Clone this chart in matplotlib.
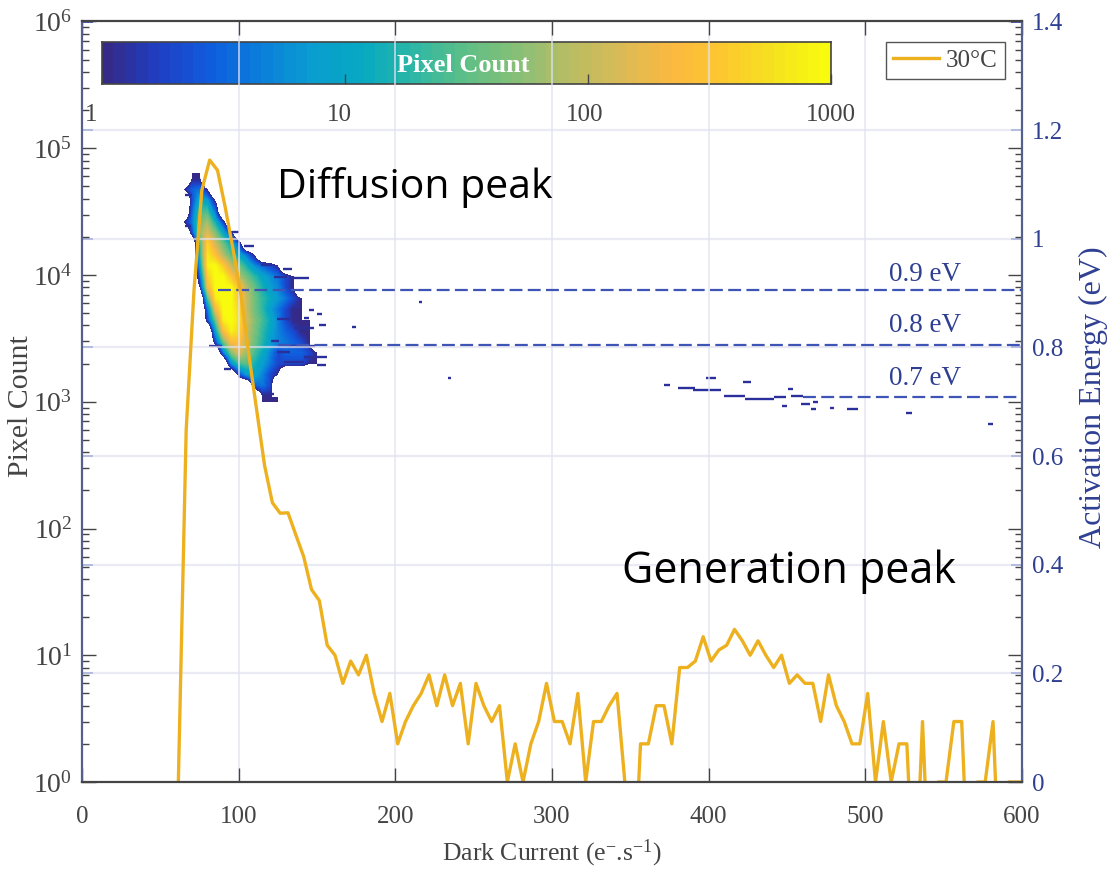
from matplotlib import pyplot as plt
from matplotlib.colors import LinearSegmentedColormap
import numpy as np

plt.rcParams['font.family'] = ['Liberation Serif', 'DejaVu Serif']
plt.rcParams['mathtext.default'] = 'regular'
plt.rcParams['mathtext.fontset'] = 'custom'
plt.rcParams['mathtext.rm'] = 'Liberation Serif'

# 30C histogram, 0.1 stands for the empty bins of the original
dark_current = np.arange(61.5, 602, 5)
pixel_count = [1, 600, 7600, 46800, 80700, 67000, 33800, 15700, 6950, 2340,
               860, 316, 160, 132, 133, 89, 60, 33, 27, 12,
               10, 6, 9, 7, 10, 5, 3, 5, 2, 3,
               4, 5, 7, 4, 7, 4, 6, 2, 6, 4,
               3, 4, 1, 2, 1, 2, 3, 6, 3, 3,
               2, 5, 1, 3, 3, 4, 5, 1, 0.1, 2,
               2, 4, 4, 2, 8, 8, 9, 14, 9, 11,
               12, 16, 13, 10, 13, 10, 8, 10, 6, 7,
               6, 6, 3, 7, 4, 3, 2, 2, 5, 1,
               3, 1, 2, 2, 0.1, 3, 0.1, 1, 1, 3,
               3, 0.1, 1, 1, 3, 0.1, 1, 1, 1]

# activation energy map, rows go with map_energy, columns with map_current
map_current = [65, 70, 75, 80, 85, 90, 95, 100, 105, 110, 115, 120, 125, 130, 135, 140, 145, 150, 155, 160]
map_energy = [1.11, 1.09, 1.07, 1.05, 1.03, 1.01, 0.99, 0.97, 0.95, 0.93, 0.91,
              0.89, 0.87, 0.85, 0.83, 0.81, 0.79, 0.77, 0.75, 0.73, 0.71]
map_counts = [
    [0, 1, 1, 0, 0, 0, 0, 0, 0, 0, 0, 0, 0, 0, 0, 0, 0, 0, 0, 0],
    [1, 3, 4, 1, 0, 0, 0, 0, 0, 0, 0, 0, 0, 0, 0, 0, 0, 0, 0, 0],
    [0, 2, 12, 8, 1, 0, 0, 0, 0, 0, 0, 0, 0, 0, 0, 0, 0, 0, 0, 0],
    [0, 3, 25, 25, 4, 0, 0, 0, 0, 0, 0, 0, 0, 0, 0, 0, 0, 0, 0, 0],
    [1, 4, 40, 70, 15, 2, 0, 0, 0, 0, 0, 0, 0, 0, 0, 0, 0, 0, 0, 0],
    [0, 2, 60, 150, 50, 12, 2, 0, 0, 0, 0, 0, 0, 0, 0, 0, 0, 0, 0, 0],
    [0, 0, 20, 500, 120, 40, 12, 3, 0, 0, 0, 0, 0, 0, 0, 0, 0, 0, 0, 0],
    [0, 0, 15, 700, 300, 80, 30, 10, 4, 1, 0, 0, 0, 0, 0, 0, 0, 0, 0, 0],
    [0, 0, 8, 800, 1000, 400, 100, 40, 15, 6, 3, 2, 1, 0, 0, 0, 0, 0, 0, 0],
    [0, 0, 3, 400, 1000, 1000, 350, 90, 40, 20, 10, 6, 4, 2, 1, 0, 0, 0, 0, 0],
    [0, 0, 1, 200, 1000, 1000, 1000, 300, 80, 35, 15, 8, 5, 2, 1, 0, 0, 0, 0, 0],
    [0, 0, 0, 30, 700, 1000, 1000, 350, 100, 40, 20, 12, 7, 4, 2, 1, 1, 0, 0, 0],
    [0, 0, 0, 4, 200, 1000, 1000, 500, 100, 40, 20, 8, 4, 2, 1, 1, 0, 0, 0, 0],
    [0, 0, 0, 2, 40, 800, 1000, 600, 120, 50, 25, 12, 5, 2, 1, 1, 1, 0, 0, 0],
    [0, 0, 0, 0, 10, 250, 800, 500, 100, 45, 20, 10, 5, 3, 2, 1, 1, 1, 0, 0],
    [0, 0, 0, 0, 2, 40, 250, 300, 90, 40, 18, 8, 5, 4, 3, 2, 1, 0, 0, 0],
    [0, 0, 0, 0, 0, 4, 50, 150, 60, 25, 12, 5, 2, 3, 3, 3, 2, 1, 0, 0],
    [0, 0, 0, 0, 0, 0, 6, 25, 30, 15, 8, 4, 2, 2, 2, 2, 1, 1, 0, 0],
    [0, 0, 0, 0, 0, 0, 0, 2, 8, 10, 5, 2, 1, 0, 0, 0, 0, 0, 0, 0],
    [0, 0, 0, 0, 0, 0, 0, 0, 0, 3, 4, 2, 0, 0, 0, 0, 0, 0, 0, 0],
    [0, 0, 0, 0, 0, 0, 0, 0, 0, 0, 1, 1, 1, 0, 0, 0, 0, 0, 0, 0],
]

# single count streaks around the main map and near the generation peak
streak_start = [135.3, 145, 150, 141.7, 151, 135.3, 124.7, 81, 131, 120.4, 124.7, 141.7, 129, 150, 90.6, 115,
                71, 66, 66, 96, 103.4, 114, 128, 122.5, 133, 215, 233.5, 172.6,
                371.4, 380.3, 390, 398.4, 421.8, 410, 423, 442, 450.6, 452.7, 459, 466.6, 465.5, 447,
                477.2, 488.5, 526.2, 578.4]
streak_end = [140, 148, 153, 145, 155.6, 148, 133, 89.5, 149, 125.7, 133, 156.6, 141.7, 155.6, 95, 122.5,
              75.7, 70.4, 69.3, 100, 110, 121.5, 134.3, 131, 145, 217, 235.5, 174.6,
              375.6, 391, 408, 404.8, 427.2, 423, 442, 449.5, 453.8, 460.2, 464.4, 469.8, 468.7, 450,
              479.8, 495.3, 530, 581.6]
streak_energy = [0.875, 0.868, 0.861, 0.854, 0.841, 0.835, 0.852, 0.803, 0.803, 0.811, 0.792, 0.783, 0.773, 0.768, 0.760, 0.714,
                 1.108, 1.08, 1.023, 1.013, 0.987, 0.952, 0.944, 0.930, 0.927, 0.884, 0.744, 0.838,
                 0.731, 0.725, 0.722, 0.743, 0.736, 0.710, 0.705, 0.709, 0.723, 0.710, 0.696, 0.699, 0.686, 0.692,
                 0.688, 0.686, 0.679, 0.659]

# dashed energy levels
level_energy = [0.906, 0.804, 0.708]
level_start = [87, 125, 460]
level_labels = ['0.9 eV', '0.8 eV', '0.7 eV']
level_label_energy = [0.935, 0.840, 0.742]

x_ticks = [0, 100, 200, 300, 400, 500, 600]
energy_ticks = [0, 0.2, 0.4, 0.6, 0.8, 1, 1.2, 1.4]
energy_labels = ['0', '0.2', '0.4', '0.6', '0.8', '1', '1.2', '1.4']
bar_ticks = [1, 10, 100, 1000]
bar_labels = ['1', '10', '100', '1000']
bar_label_pos = [0.9, 9.5, 97, 1000]

parula_nodes = ['#352a87', '#1f3fc4', '#0f5cdd', '#0b7fdb', '#0a9dd0', '#06a9c1', '#2eb7a4',
                '#5fbf85', '#87bf77', '#b8bd64', '#d9ba56', '#fcb940', '#fdc82f', '#f5e21e', '#f9fb0e']
parula = LinearSegmentedColormap.from_list('parula_like', parula_nodes, N=64)
parula.set_under((1, 1, 1, 0))

blue_text = '#2f3f92'
gray_text = '#444444'
grid_color = '#e2e2f0'

fig = plt.figure(figsize=(11.15, 8.72), dpi=100)
rect = [82 / 1115, 1 - 782 / 872, 940 / 1115, 760.5 / 872]

# colour bar goes first so the grid lines run over it
cax = fig.add_axes([102 / 1115, 1 - 84.5 / 872, 729 / 1115, 42.5 / 872], zorder=1)
cax.pcolormesh(np.geomspace(1, 1000, 65), [0, 1], np.linspace(0, 1, 64)[None, :], cmap=parula, vmin=0, vmax=1)
cax.set_xscale('log')
cax.set_xlim(1, 1000)
cax.set_yticks([])
cax.set_xticks(bar_ticks, labels=[])
cax.minorticks_off()
cax.tick_params(axis='x', direction='in', length=7, width=1, color='#444444')
for spine in cax.spines.values():
    spine.set_color('#444444')
    spine.set_linewidth(1.2)
for pos, name in zip(bar_label_pos, bar_labels):
    cax.text(pos, -0.72, name, fontsize=18, color=gray_text, ha='center', va='center',
             transform=cax.get_xaxis_transform())
cax.text(0.496, 0.44, 'Pixel Count', fontsize=19, fontweight='bold', color='white', ha='center', va='center',
         transform=cax.transAxes)

ax2 = fig.add_axes(rect, zorder=2)
ax2.patch.set_visible(False)
counts = np.array(map_counts, dtype=float)
# empty cells sit below vmin, so the smoothed edge of the map goes transparent
log_counts = np.log10(np.where(counts > 0, counts, 0.1))
ax2.imshow(log_counts, extent=[62.5, 162.5, 0.70, 1.12], aspect='auto', cmap=parula,
           vmin=0, vmax=3, interpolation='bilinear', interpolation_stage='data', zorder=1)
ax2.hlines(streak_energy, streak_start, streak_end, color='#2b2f9b', linewidth=1.7, zorder=1.5)
ax2.hlines(energy_ticks[1:-1], 0, 600, color=grid_color, linewidth=1.6, alpha=0.7, zorder=2)
ax2.vlines(x_ticks[1:-1], 0, 1.4, color=grid_color, linewidth=1.4, alpha=0.7, zorder=2)
for e, start, name, label_e in zip(level_energy, level_start, level_labels, level_label_energy):
    ax2.plot([start, 600], [e, e], color='#3f55b5', linewidth=1.6, dashes=(5.8, 2.4), zorder=3)
    ax2.text(515, label_e, name, fontsize=19.5, color=blue_text, ha='left', va='center', zorder=3)
ax2.set_xlim(0, 600)
ax2.set_ylim(0, 1.4)
ax2.yaxis.tick_right()
ax2.yaxis.set_label_position('right')
ax2.set_yticks(energy_ticks, labels=energy_labels)
ax2.tick_params(axis='y', which='major', direction='in', length=8, width=1.3, color='#3f55b5',
                labelcolor=blue_text, labelsize=18, pad=7, left=True)
ax2.set_xticks([])
ax2.set_ylabel('Activation Energy (eV)', fontsize=23, color=blue_text)
ax2.yaxis.set_label_coords((1079 - 82) / 940, 0.506)

ax = fig.add_axes(rect, zorder=3)
ax.patch.set_visible(False)
ax.plot(dark_current, pixel_count, color='#edb120', linewidth=2.4, label='30°C')
ax.set_yscale('log')
ax.set_xlim(0, 600)
ax.set_ylim(1, 1e6)
ax.set_xticks(x_ticks)
ax.set_yticks([10.0 ** p for p in range(7)])
ax.tick_params(axis='x', direction='in', top=True, length=10, width=1, color='#444444',
               labelcolor=gray_text, labelsize=18, pad=17)
ax.tick_params(axis='y', which='major', direction='in', right=True, length=10, width=1, color='#444444',
               labelcolor=gray_text, labelsize=20, pad=7)
ax.tick_params(axis='y', which='minor', direction='in', right=True, length=5, width=1, color='#444444')
ax.set_xlabel('Dark Current (e$^{-}$.s$^{-1}$)', fontsize=18.5, color=gray_text)
ax.xaxis.set_label_coords((552 - 82) / 940, -(838 - 782) / 760.5)
ax.set_ylabel('Pixel Count', fontsize=21.5, color=gray_text)
ax.yaxis.set_label_coords((34 - 82) / 940, 0.494)
ax.spines['left'].set_color('#56608c')
ax.spines['right'].set_color('#56608c')
ax.spines['top'].set_color('#444444')
ax.spines['bottom'].set_color('#444444')
for spine in ax.spines.values():
    spine.set_linewidth(1.6)
for spine in ax2.spines.values():
    spine.set_visible(False)

ax.legend(loc='upper right', bbox_to_anchor=((1005 - 82) / 940, 1 - (42 - 21.5) / 760.5), borderaxespad=0,
          fontsize=18, frameon=True, fancybox=False, framealpha=1, edgecolor='#555555', handlelength=1.85,
          handletextpad=0.25, borderpad=0.3, labelcolor=gray_text)

fig.text(415 / 1115, 1 - 187 / 872, 'Diffusion peak', fontsize=29.5, color='black', family='Open Sans',
         ha='center', va='center', zorder=10)
fig.text(789 / 1115, 1 - 572 / 872, 'Generation peak', fontsize=31, color='black', family='Open Sans',
         ha='center', va='center', zorder=10)

plt.savefig('out.png', dpi=100)
